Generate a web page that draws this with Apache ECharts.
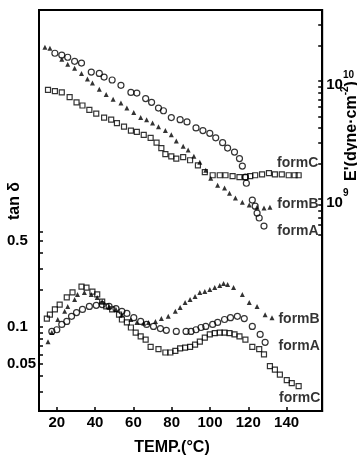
<!DOCTYPE html>
<html>
<head>
<meta charset="utf-8">
<script src="https://cdn.jsdelivr.net/npm/echarts@6/dist/echarts.min.js"></script>
<style>
  html, body { margin: 0; padding: 0; background: #fff; }
  #main { width: 357px; height: 459px; }
</style>
</head>
<body>
<div id="main"></div>
<script>
// temperature (°C) and E' (x 1e9 dyne/cm²), upper curves, right axis
const tempE_A = [19.0, 22.6, 25.7, 29.3, 32.9, 38.0, 42.2, 44.7, 48.9, 53.5, 58.7, 61.8, 66.4, 69.5, 73.1, 75.7, 79.8, 84.4, 88.0, 92.7, 96.3, 99.9, 103.0, 106.6, 109.2, 112.8, 115.4, 116.9, 118.5, 119.0, 122.1, 123.6, 124.6, 125.7, 128.2];
const modA = [17.2, 16.6, 15.9, 14.7, 14.2, 11.9, 11.6, 10.8, 10.2, 9.2, 8.0, 7.9, 7.1, 6.6, 5.9, 5.6, 4.9, 4.7, 4.5, 4.0, 3.8, 3.6, 3.3, 3.0, 2.7, 2.5, 2.2, 1.9, 1.53, 1.36, 0.98, 0.87, 0.76, 0.69, 0.59];

const tempE_B = [13.8, 16.4, 22.6, 25.7, 29.3, 32.9, 36.0, 38.6, 42.2, 45.8, 49.4, 53.5, 56.6, 60.2, 63.8, 66.9, 70.0, 73.1, 76.7, 79.8, 82.4, 86.0, 88.6, 91.6, 94.7, 97.8, 100.4, 104.0, 107.6, 110.2, 113.3, 116.9, 120.5, 124.6, 128.2, 131.3];
const modB = [19.3, 19.0, 15.3, 13.9, 12.8, 11.6, 10.4, 9.6, 8.5, 7.7, 7.0, 6.5, 5.9, 5.4, 4.9, 4.7, 4.4, 4.1, 3.8, 3.5, 3.1, 2.8, 2.6, 2.3, 2.05, 1.75, 1.50, 1.31, 1.24, 1.12, 1.02, 0.94, 0.89, 0.85, 0.84, 0.85];

const tempE_C = [15.4, 19.0, 22.6, 26.7, 30.3, 33.4, 37.0, 40.6, 44.7, 48.4, 51.4, 55.1, 58.7, 61.8, 65.4, 69.0, 72.1, 74.6, 76.7, 79.8, 82.4, 86.0, 89.6, 93.7, 97.3, 101.4, 105.1, 108.1, 111.8, 115.4, 118.5, 121.0, 123.6, 127.2, 130.8, 133.9, 137.5, 141.1, 144.2, 146.3];
const modC = [8.4, 8.2, 8.0, 7.3, 6.6, 6.2, 5.7, 5.3, 4.9, 4.7, 4.4, 4.1, 3.8, 3.7, 3.5, 3.3, 3.0, 2.7, 2.4, 2.3, 2.2, 2.26, 2.13, 1.93, 1.69, 1.59, 1.59, 1.59, 1.56, 1.53, 1.53, 1.56, 1.59, 1.62, 1.66, 1.62, 1.62, 1.59, 1.59, 1.59];

// temperature (°C) and tan δ, lower curves, left axis
const tempT_A = [17.4, 20.0, 22.6, 25.2, 27.7, 30.3, 33.4, 37.0, 40.6, 43.7, 47.3, 50.9, 54.0, 56.6, 60.2, 63.8, 66.9, 70.5, 74.1, 77.2, 82.4, 87.5, 90.1, 92.7, 95.3, 97.8, 101.4, 104.0, 107.6, 110.7, 114.3, 117.9, 122.1, 126.2, 128.8];
const tanA = [0.092, 0.095, 0.105, 0.111, 0.122, 0.131, 0.139, 0.147, 0.150, 0.152, 0.147, 0.141, 0.134, 0.129, 0.119, 0.111, 0.105, 0.101, 0.097, 0.094, 0.092, 0.092, 0.092, 0.095, 0.099, 0.101, 0.105, 0.109, 0.115, 0.119, 0.122, 0.117, 0.101, 0.087, 0.075];

const tempT_B = [15.4, 17.4, 20.5, 24.1, 25.7, 29.3, 30.8, 34.4, 38.0, 41.1, 43.7, 47.3, 50.9, 54.0, 58.7, 61.8, 65.4, 67.9, 71.5, 74.6, 78.2, 81.9, 84.4, 87.0, 89.6, 92.2, 94.7, 97.3, 99.9, 102.5, 105.1, 107.1, 109.2, 112.3, 116.9, 120.5, 124.6, 128.8, 132.4];
const tanB = [0.076, 0.090, 0.115, 0.134, 0.147, 0.167, 0.184, 0.191, 0.184, 0.174, 0.161, 0.147, 0.139, 0.126, 0.115, 0.109, 0.107, 0.109, 0.111, 0.117, 0.122, 0.134, 0.144, 0.158, 0.167, 0.177, 0.191, 0.194, 0.202, 0.209, 0.217, 0.226, 0.222, 0.209, 0.184, 0.158, 0.147, 0.126, 0.119];

const tempT_C = [14.8, 16.4, 19.0, 21.5, 25.2, 28.2, 32.9, 35.5, 38.6, 41.1, 43.7, 45.8, 48.9, 52.5, 54.0, 56.6, 58.7, 61.2, 63.8, 66.4, 69.0, 73.1, 76.7, 79.3, 81.9, 84.4, 87.0, 89.6, 92.2, 94.7, 97.3, 99.9, 102.5, 105.1, 107.6, 110.2, 112.8, 115.4, 118.5, 122.1, 125.7, 128.2, 131.3, 133.9, 136.5, 140.1, 142.7, 146.3];
const tanC = [0.117, 0.126, 0.139, 0.152, 0.174, 0.191, 0.213, 0.209, 0.194, 0.184, 0.161, 0.147, 0.139, 0.126, 0.115, 0.109, 0.099, 0.090, 0.084, 0.079, 0.069, 0.066, 0.062, 0.062, 0.064, 0.067, 0.068, 0.069, 0.072, 0.076, 0.082, 0.087, 0.089, 0.090, 0.090, 0.089, 0.087, 0.084, 0.079, 0.069, 0.066, 0.060, 0.048, 0.045, 0.041, 0.037, 0.035, 0.033];

// tick labels
const xLabels = [20, 40, 60, 80, 100, 120, 140];
const tanLabels = [0.05, 0.1, 0.5];
const tanMinor = [0.03, 0.04, 0.05, 0.06, 0.07, 0.08, 0.09, 0.1, 0.2, 0.3, 0.4, 0.5, 0.6];
const modLabels = [1e9, 1e10];
const modMinor = [5e8, 6e8, 7e8, 8e8, 9e8, 1e9, 2e9, 3e9, 4e9, 5e9, 6e9, 7e9, 8e9, 9e9, 1e10, 2e10, 3e10, 4e10];

const FONT = '"Liberation Sans", Arial, sans-serif';
const INK = '#000';
const lg = Math.log10;

function pairs(xs, ys, scale) {
  return xs.map((x, i) => [x, lg(ys[i] * scale)]);
}

function series(name, xs, ys, scale, yIdx, symbol, size, filled, offset) {
  const last = xs.length - 1;
  return {
    name: name,
    type: 'scatter',
    yAxisIndex: yIdx,
    data: pairs(xs, ys, scale),
    symbol: symbol,
    symbolSize: size,
    itemStyle: filled
      ? { color: INK }
      : { color: 'rgba(255,255,255,0)', borderColor: INK, borderWidth: 1.2 },
    label: {
      show: true,
      position: 'inside',
      offset: offset,
      formatter: p => (p.dataIndex === last ? name : ''),
      color: INK,
      fontFamily: FONT,
      fontWeight: 'bold',
      fontSize: 14
    },
    emphasis: { disabled: true },
    silent: true
  };
}

const chart = echarts.init(document.getElementById('main'));

const tickStyle = { inside: true, length: 4, lineStyle: { color: INK, width: 1.5 } };
const lineStyle = { lineStyle: { color: INK, width: 2 } };

const option = {
  backgroundColor: '#fff',
  animation: false,
  grid: { left: 39, right: 31, top: 10, bottom: 48, show: true, borderColor: INK, borderWidth: 2 },
  xAxis: {
    type: 'value',
    min: 10.7,
    max: 158.6,
    axisLine: Object.assign({ onZero: false }, lineStyle),
    axisTick: Object.assign({ customValues: xLabels }, tickStyle),
    axisLabel: {
      customValues: xLabels,
      margin: 4,
      color: INK,
      fontFamily: FONT,
      fontWeight: 'bold',
      fontSize: 15
    },
    splitLine: { show: false }
  },
  yAxis: [
    {
      type: 'value',
      position: 'left',
      min: -1.683,
      max: 1.577,
      axisLine: Object.assign({ show: true, onZero: false }, lineStyle),
      axisTick: Object.assign({ show: true, customValues: tanMinor.map(lg) }, tickStyle),
      axisLabel: {
        customValues: tanLabels.map(lg),
        formatter: v => String(+Math.pow(10, v).toPrecision(2)),
        align: 'left',
        margin: 32,
        color: INK,
        fontFamily: FONT,
        fontWeight: 'bold',
        fontSize: 15
      },
      splitLine: { show: false }
    },
    {
      type: 'value',
      position: 'right',
      min: 7.203,
      max: 10.602,
      axisLine: Object.assign({ show: true, onZero: false }, lineStyle),
      axisTick: Object.assign({ show: true, customValues: modMinor.map(lg) }, tickStyle),
      axisLabel: {
        customValues: modLabels.map(lg),
        formatter: v => '{b|10}{s|' + Math.round(v) + '}',
        margin: 4,
        rich: {
          b: { fontSize: 15, fontWeight: 'bold', fontFamily: FONT, color: INK, lineHeight: 22, verticalAlign: 'bottom' },
          s: { fontSize: 10, fontWeight: 'bold', fontFamily: FONT, color: INK, lineHeight: 22, verticalAlign: 'top' }
        }
      },
      splitLine: { show: false }
    }
  ],
  graphic: [
    {
      type: 'text', x: 15, y: 201, rotation: Math.PI / 2,
      style: { text: 'tan δ', fill: INK, font: 'bold 16px ' + FONT, align: 'center', verticalAlign: 'middle' }
    },
    {
      type: 'text', x: 350, y: 131, rotation: Math.PI / 2,
      style: {
        text: "{t|E'(dyne·cm}{s|-2}{t|)}", align: 'center', verticalAlign: 'middle',
        rich: {
          t: { fill: INK, fontSize: 16, fontWeight: 'bold', fontFamily: FONT, lineHeight: 20, verticalAlign: 'bottom' },
          s: { fill: INK, fontSize: 10, fontWeight: 'bold', fontFamily: FONT, lineHeight: 20, verticalAlign: 'top' }
        }
      }
    },
    {
      type: 'text', x: 172, y: 448,
      style: { text: 'TEMP.(°C)', fill: INK, font: 'bold 16px ' + FONT, align: 'center', verticalAlign: 'middle' }
    }
  ],
  series: [
    series('formA', tempE_A, modA, 1e9, 1, 'circle', 6, false, [34, 5]),
    series('formB', tempE_B, modB, 1e9, 1, 'triangle', 5, true, [28, -3]),
    series('formC', tempE_C, modC, 1e9, 1, 'rect', 5, false, [-1, -12]),
    series('formA', tempT_A, tanA, 1, 0, 'circle', 6, false, [34, 4]),
    series('formB', tempT_B, tanB, 1, 0, 'triangle', 5, true, [27, 1]),
    series('formC', tempT_C, tanC, 1, 0, 'rect', 5, false, [1, 12])
  ]
};

chart.setOption(option);
</script>
</body>
</html>
